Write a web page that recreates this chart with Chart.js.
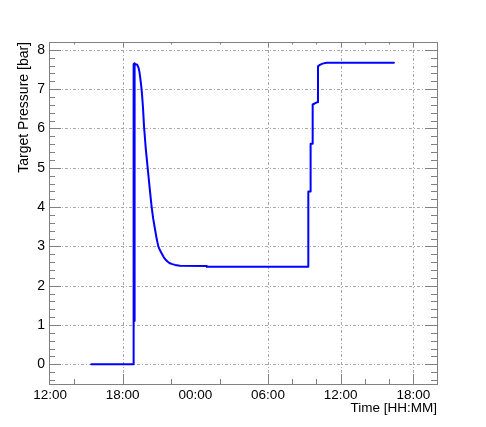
<!DOCTYPE html>
<html>
<head>
<meta charset="utf-8">
<script src="https://cdn.jsdelivr.net/npm/chart.js@4"></script>
<style>
  body { margin: 0; background: #fff; }
  #wrap { width: 486px; height: 427px; }
</style>
</head>
<body>
<div id="wrap"><canvas id="myChart" width="486" height="427"></canvas></div>
<script>
/*************** data ****************/
// time in hours counted from 00:00 of the first day
var timeHours = [15.40, 18.87, 18.87, 18.885, 18.90, 18.915, 18.93, 18.945, 18.96, 18.975, 18.99,
  19.00, 19.20, 19.30, 19.38, 19.45, 19.52, 19.60, 19.68, 19.76, 19.90, 20.06, 20.22, 20.39,
  20.52, 20.66, 20.80, 20.94, 21.08, 21.22, 21.38, 21.55, 21.72, 21.90, 22.10, 22.32, 22.73,
  24.93, 24.95, 33.33, 33.33, 33.52, 33.52, 33.69, 33.69, 34.07, 34.13,
  34.29, 34.50, 34.85, 40.40];
var pressureBar = [0, 0, 1.03, 7.62, 1.05, 7.64, 1.08, 7.65, 1.10, 7.66, 1.12,
  7.64, 7.62, 7.55, 7.44, 7.28, 7.10, 6.85, 6.50, 6.05, 5.50, 5.00, 4.50, 4.00,
  3.70, 3.45, 3.20, 3.00, 2.90, 2.82, 2.73, 2.66, 2.61, 2.57, 2.55, 2.53, 2.51,
  2.50, 2.48, 2.48, 4.40, 4.40, 5.61, 5.61, 6.61, 6.67, 7.58,
  7.62, 7.65, 7.67, 7.67];

var xLabelHours = [12, 18, 24, 30, 36, 42];
var xMajorHours = [18, 30, 36, 42];
var xMinorHours = [14, 22, 26, 32, 34, 38, 40];
var yLabels = [0, 1, 2, 3, 4, 5, 6, 7, 8];

/*************** helpers ****************/
function hhmm(h) {
  var d = ((Math.round(h * 60) % 1440) + 1440) % 1440;
  var hh = Math.floor(d / 60), mm = d % 60;
  return (hh < 10 ? "0" : "") + hh + ":" + (mm < 10 ? "0" : "") + mm;
}

var points = [];
for (var i = 0; i < timeHours.length; i++) {
  points.push({ x: timeHours[i], y: pressureBar[i] });
}

// grid, frame and tick marks drawn ROOT style
var rootFrame = {
  id: "rootFrame",
  beforeDatasetsDraw: function (chart) {
    var c = chart.ctx, a = chart.chartArea;
    var xs = chart.scales.x, ys = chart.scales.y;
    c.save();
    c.strokeStyle = "#a8a8a8";
    c.lineWidth = 1;
    c.setLineDash([3, 2, 1, 2]);
    xMajorHours.forEach(function (h) {
      var px = Math.round(xs.getPixelForValue(h)) + 0.5;
      c.beginPath(); c.moveTo(px, a.top); c.lineTo(px, a.bottom); c.stroke();
    });
    yLabels.forEach(function (v) {
      var py = Math.round(ys.getPixelForValue(v)) + 0.5;
      c.beginPath(); c.moveTo(a.left, py); c.lineTo(a.right, py); c.stroke();
    });
    c.restore();
  },
  afterDraw: function (chart) {
    var c = chart.ctx, a = chart.chartArea;
    var xs = chart.scales.x, ys = chart.scales.y;
    c.save();
    c.strokeStyle = "#808080";
    c.lineWidth = 1;
    c.strokeRect(Math.round(a.left) + 0.5, Math.round(a.top) + 0.5,
      Math.round(a.right - a.left), Math.round(a.bottom - a.top));
    function xtick(h, len) {
      var px = Math.round(xs.getPixelForValue(h)) + 0.5;
      c.beginPath();
      c.moveTo(px, a.bottom); c.lineTo(px, a.bottom - len);
      c.moveTo(px, a.top); c.lineTo(px, a.top + len * 0.5);
      c.stroke();
    }
    xMajorHours.forEach(function (h) { xtick(h, 10); });
    xMinorHours.forEach(function (h) { xtick(h, 5); });
    for (var k = -2; k <= 41; k++) {
      var v = k / 5;
      if (v < ys.min || v > ys.max) continue;
      var major = (k % 5 === 0);
      var len = major ? 12 : 6;
      var py = Math.round(ys.getPixelForValue(v)) + 0.5;
      c.beginPath();
      c.moveTo(a.left, py); c.lineTo(a.left + len, py);
      c.moveTo(a.right, py); c.lineTo(a.right - len, py);
      c.stroke();
    }
    c.restore();
  }
};

/*************** chart ****************/
var fontFam = "'Liberation Sans', Arial, Helvetica, sans-serif";
const ctx = document.getElementById("myChart").getContext("2d");

new Chart(ctx, {
  type: "line",
  data: {
    datasets: [{
      label: "Target Pressure",
      data: points,
      borderColor: "#0000ff",
      borderWidth: 2,
      borderJoinStyle: "round",
      borderCapStyle: "round",
      pointRadius: 0,
      tension: 0,
      fill: false
    }]
  },
  options: {
    responsive: false,
    animation: false,
    layout: { padding: { top: 42, right: 49, bottom: 0, left: 0 } },
    plugins: {
      legend: { display: false },
      tooltip: { enabled: false }
    },
    scales: {
      x: {
        type: "linear",
        min: 11.91,
        max: 43.96,
        afterBuildTicks: function (s) {
          s.ticks = xLabelHours.map(function (h) { return { value: h }; });
        },
        afterFit: function (s) { s.height = 43; },
        grid: { display: false, drawTicks: false },
        border: { display: false },
        ticks: {
          autoSkip: false,
          maxRotation: 0,
          padding: 3,
          color: "#000",
          font: { family: fontFam, size: 13.5 },
          callback: function (v) { return hhmm(v); }
        },
        title: {
          display: true,
          text: "Time [HH:MM]",
          align: "end",
          color: "#000",
          font: { family: fontFam, size: 13.5 },
          padding: { top: 0, bottom: 11 }
        }
      },
      y: {
        min: -0.5,
        max: 8.2,
        afterBuildTicks: function (s) {
          s.ticks = yLabels.map(function (v) { return { value: v }; });
        },
        afterFit: function (s) { s.width = 49; },
        grid: { display: false, drawTicks: false },
        border: { display: false },
        ticks: {
          padding: 4,
          color: "#000",
          font: { family: fontFam, size: 14 }
        },
        title: {
          display: true,
          text: "Target Pressure [bar]",
          align: "end",
          color: "#000",
          font: { family: fontFam, size: 14 },
          padding: { top: 16, bottom: 0 }
        }
      }
    }
  },
  plugins: [rootFrame]
});
</script>
</body>
</html>
